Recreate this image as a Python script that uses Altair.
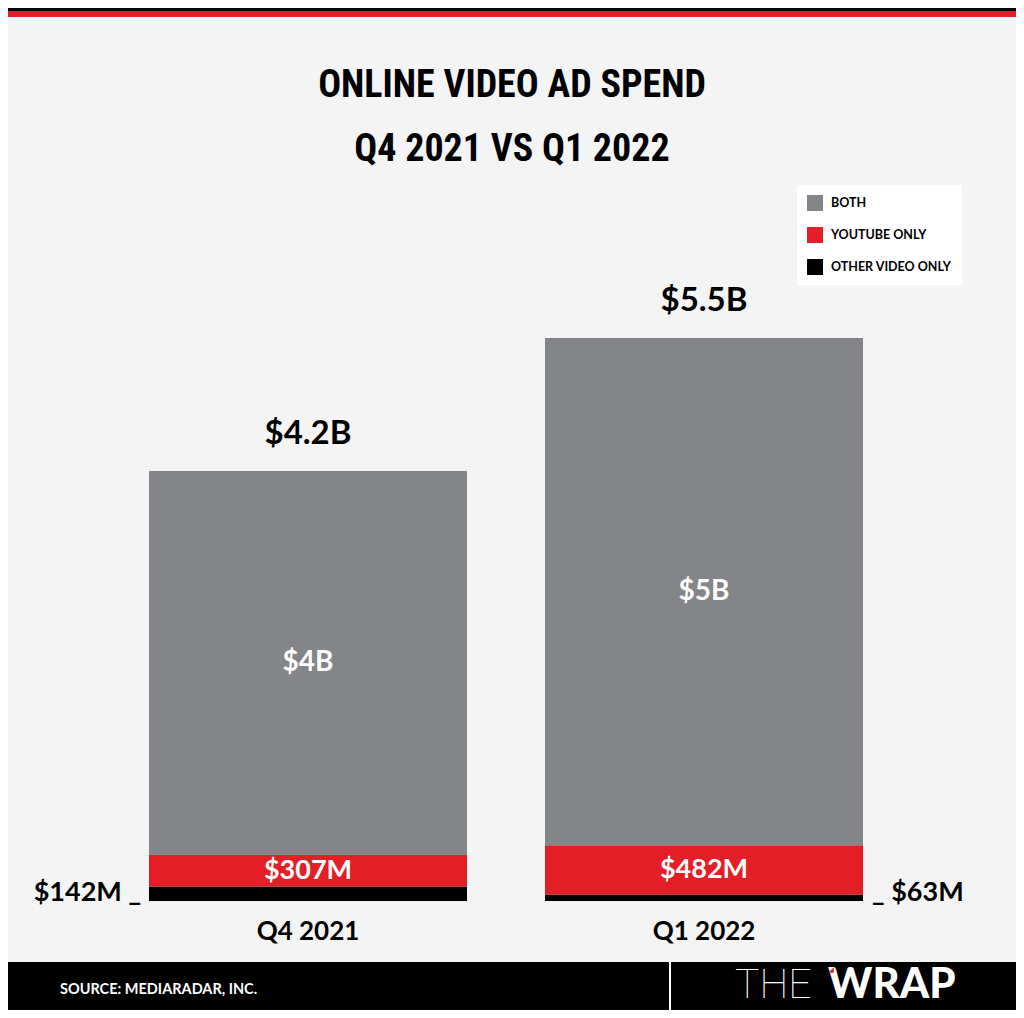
import altair as alt
import pandas as pd

# ---- data ----
quarters = ["Q4 2021", "Q1 2022"]
both = [3751, 4955]          # $M
youtube_only = [307, 482]    # $M
other_only = [142, 63]       # $M
totals = [4200, 5500]        # $M
both_labels = ["$4B", "$5B"]
youtube_labels = ["$307M", "$482M"]
other_labels = ["$142M _", "_ $63M"]
total_labels = ["$4.2B", "$5.5B"]
segments = ["BOTH", "YOUTUBE ONLY", "OTHER VIDEO ONLY"]
colors = ["#848589", "#e31e26", "#000000"]

W, H = 1008, 1002
FONT = "Lato"
TITLE_FONT = "'Roboto Condensed', 'DejaVu Sans Condensed', 'Liberation Sans Narrow', 'Noto Sans', 'Liberation Sans', sans-serif"

rows = []
for i, q in enumerate(quarters):
    cum = 0
    for name, v, lab in [("OTHER VIDEO ONLY", other_only[i], other_labels[i]),
                         ("YOUTUBE ONLY", youtube_only[i], youtube_labels[i]),
                         ("BOTH", both[i], both_labels[i])]:
        rows.append(dict(quarter=q, segment=name, y0=cum, y1=cum + v,
                         mid=cum + v / 2, label=lab))
        cum += v
bars_df = pd.DataFrame(rows)
tot_df = pd.DataFrame({"quarter": quarters, "total": totals, "label": total_labels,
                       "zero": [0, 0]})

xscale = alt.Scale(domain=quarters, range=[141, 855], paddingInner=0.197, paddingOuter=0)
yscale = alt.Scale(domain=[0, 5500], range=[893, 330], nice=False, zero=True)
X = alt.X("quarter:N", scale=xscale, axis=None)

one = pd.DataFrame({"a": [0]})

def rect(x, x2, y, y2, color):
    return alt.Chart(one).mark_rect(color=color).encode(
        x=alt.value(x), x2=alt.value(x2), y=alt.value(y), y2=alt.value(y2))

header_black = rect(0, W, 0, 3, "#000000")
header_red = rect(0, W, 3, 9, "#e31e26")
footer = rect(0, W, 954, H, "#000000")
divider = alt.Chart(one).mark_rule(color="white", strokeWidth=2).encode(
    x=alt.value(662), y=alt.value(954), y2=alt.value(H))

def fixed_text(txt, x, y, size, font=FONT, weight="bold", color="black", align="center"):
    return alt.Chart(pd.DataFrame({"t": [txt]})).mark_text(
        font=font, fontSize=size, fontWeight=weight, color=color, align=align,
        baseline="alphabetic").encode(x=alt.value(x), y=alt.value(y), text="t:N")

title1 = fixed_text("ONLINE VIDEO AD SPEND", 504, 89, 38, font=TITLE_FONT)
title2 = fixed_text("Q4 2021 VS Q1 2022", 504, 153, 38, font=TITLE_FONT)
source = fixed_text("SOURCE: MEDIARADAR, INC.", 52, 986, 14.5, color="white", align="left")
logo_the = fixed_text("THE", 727, 990, 41, font="Roboto", weight=100, color="white", align="left")
logo_wrap = fixed_text("WRAP", 820, 990, 42, weight=900, color="white", align="left")
accent = alt.Chart(one).mark_point(shape="M-1,1L1,-1L1,1Z", filled=True, color="#e31e26",
                                   size=30, opacity=1).encode(
    x=alt.value(823), y=alt.value(962))

bars = alt.Chart(bars_df).mark_bar().encode(
    x=X,
    y=alt.Y("y0:Q", scale=yscale, axis=None),
    y2="y1:Q",
    color=alt.Color("segment:N", scale=alt.Scale(domain=segments, range=colors),
                    legend=alt.Legend(orient="none", legendX=789, legendY=177,
                                      fillColor="white", padding=10, title=None,
                                      symbolType="square", symbolSize=256,
                                      symbolStrokeWidth=0, symbolOpacity=1,
                                      rowPadding=16, labelOffset=8, labelFont=FONT,
                                      labelFontSize=12.5, labelFontWeight="bold",
                                      labelColor="black")),
)

inner = alt.Chart(bars_df).transform_filter(
    alt.FieldOneOfPredicate(field="segment", oneOf=["BOTH", "YOUTUBE ONLY"])
).mark_text(font=FONT, fontWeight="bold", color="white", baseline="middle").encode(
    x=X, y=alt.Y("mid:Q", scale=yscale, axis=None), text="label:N",
    size=alt.condition(alt.datum.segment == "BOTH", alt.value(28), alt.value(27)))

other_q4 = alt.Chart(bars_df).transform_filter(
    (alt.datum.segment == "OTHER VIDEO ONLY") & (alt.datum.quarter == quarters[0])
).mark_text(font=FONT, fontWeight="bold", fontSize=27, color="black", align="right",
            baseline="alphabetic", dx=-8).encode(
    x=alt.X("quarter:N", scale=xscale, axis=None, bandPosition=0),
    y=alt.Y("y0:Q", scale=yscale, axis=None), text="label:N")

other_q1 = alt.Chart(bars_df).transform_filter(
    (alt.datum.segment == "OTHER VIDEO ONLY") & (alt.datum.quarter == quarters[1])
).mark_text(font=FONT, fontWeight="bold", fontSize=27, color="black", align="left",
            baseline="alphabetic", dx=9).encode(
    x=alt.X("quarter:N", scale=xscale, axis=None, bandPosition=1),
    y=alt.Y("y0:Q", scale=yscale, axis=None), text="label:N")

total_text = alt.Chart(tot_df).mark_text(
    font=FONT, fontWeight="bold", fontSize=33, color="black", baseline="alphabetic",
    dy=-27).encode(x=X, y=alt.Y("total:Q", scale=yscale, axis=None), text="label:N")

cat_text = alt.Chart(tot_df).mark_text(
    font=FONT, fontWeight="bold", fontSize=26, color="black", baseline="alphabetic",
    dy=39).encode(x=X, y=alt.Y("zero:Q", scale=yscale, axis=None), text="quarter:N")

chart = alt.layer(
    header_black, header_red, footer, divider,
    title1, title2, source, logo_the, logo_wrap, accent,
    bars, inner, other_q4, other_q1, total_text, cat_text,
).properties(
    width=W, height=H, padding=0,
    autosize=alt.AutoSizeParams(type="fit", contains="padding"),
    background="#f4f4f4",
).configure_view(strokeWidth=0)

chart.save("out.html", embed_options={"renderer": "svg", "actions": False})
